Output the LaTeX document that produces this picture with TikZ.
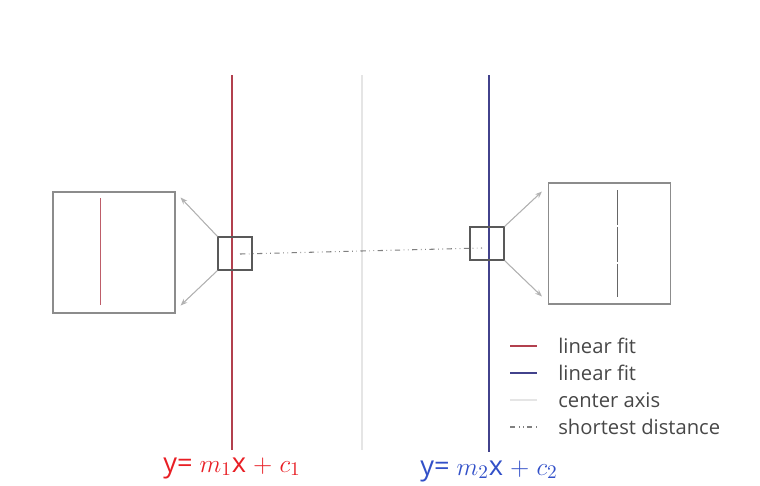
\documentclass[tikz,border=0pt]{standalone}
\usepackage{fontspec}
\setmainfont{Open Sans}
\usetikzlibrary{arrows.meta,positioning,calc}
\definecolor{fitred}{RGB}{178,64,78}
\definecolor{fitblue}{RGB}{66,66,140}
\definecolor{eqred}{RGB}{232,30,36}
\definecolor{eqblue}{RGB}{50,80,200}

\begin{document}
\begin{tikzpicture}[
    x=0.02cm, y=-0.02cm,
    >=Stealth,
    zoombox/.style={draw=black!65, semithick, minimum width=0.68cm, minimum height=0.66cm, inner sep=0pt},
    bigbox/.style={draw=black!45, semithick, minimum width=2.44cm, minimum height=2.42cm, inner sep=0pt},
    zoomarrow/.style={->, draw=black!30, fill=black!55, semithick, >={Stealth[length=4pt,width=3pt]}},
    redfit/.style={draw=fitred, semithick},
    bluefit/.style={draw=fitblue, semithick},
    centeraxis/.style={draw=black!10, semithick},
    distline/.style={draw=black!50, dash dot dot, semithick},
    legtext/.style={anchor=west, text=black!72, font=\fontsize{11.5}{14}\selectfont, inner sep=0pt},
    eqlabel/.style={font=\fontsize{15.5}{18}\selectfont, inner sep=0pt},
]
\useasboundingbox (0,0) rectangle (760,485);

%% fitted lines and center axis
\coordinate (redtop)  at (232,75);
\coordinate (redbot)  at (232,450);
\coordinate (axistop) at (362,75);
\coordinate (axisbot) at (362,450);
\coordinate (bluetop) at (489,75);
\coordinate (bluebot) at (489,452);
\draw[centeraxis] (axistop) -- (axisbot);
\draw[redfit]     (redtop)  -- (redbot);
\draw[bluefit]    (bluetop) -- (bluebot);

%% zoom windows
\node[zoombox] (lsmall) at (235,253.5) {};
\node[zoombox] (rsmall) at (487,243.5) {};
\node[bigbox]  (lbig)   at (114,252.5) {};
\node[bigbox]  (rbig)   at (609.5,243.5) {};

\draw[draw=fitred!85, thin]  (100,198) -- (100,305);
\draw[draw=black!60, thin, dash pattern=on 20pt off 1pt] (617,190) -- (617,297);

\draw[zoomarrow] (lsmall.north west) -- ($(lbig.north east)+(5,6)$);
\draw[zoomarrow] (lsmall.south west) -- ($(lbig.south east)+(5,-8)$);
\draw[zoomarrow] (rsmall.north east) -- ($(rbig.north west)+(-6,9)$);
\draw[zoomarrow] (rsmall.south east) -- ($(rbig.south west)+(-6,-8)$);

%% shortest distance
\coordinate (diststart) at (240,254);
\coordinate (distend)   at (482,248);
\draw[distline] (diststart) -- (distend);

%% legend
\node[legtext] (leg1) at (558,346) {linear fit};
\node[legtext] (leg2) at (558,373) {linear fit};
\node[legtext] (leg3) at (558,400) {center axis};
\node[legtext] (leg4) at (558,427) {shortest distance};
\draw[redfit]     ($(leg1.west)+(-48,0)$) -- ++(27,0);
\draw[bluefit]    ($(leg2.west)+(-48,0)$) -- ++(27,0);
\draw[centeraxis] ($(leg3.west)+(-48,0)$) -- ++(27,0);
\draw[distline]   ($(leg4.west)+(-48,0)$) -- ++(27,0);

%% equations
\node[eqlabel, text=eqred]  (eqleft)  at (232,468) {y= $m_1$x $+$ $c_1$};
\node[eqlabel, text=eqblue] (eqright) at (489,471) {y= $m_2$x $+$ $c_2$};

\end{tikzpicture}
\end{document}
